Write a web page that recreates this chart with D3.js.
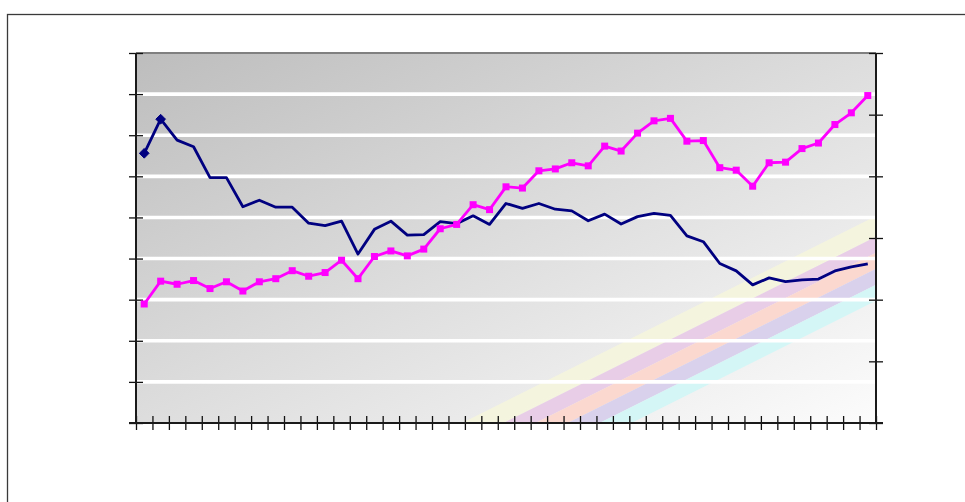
<!DOCTYPE html>
<html>
<head>
<meta charset="utf-8">
<script src="https://cdn.jsdelivr.net/npm/d3@7"></script>
<style>
  html, body { margin: 0; padding: 0; background: #ffffff; }
  svg { display: block; }
</style>
</head>
<body>
<svg id="chart" width="965" height="502"></svg>
<script>
// ---- data ----
const categories = [1,2,3,4,5,6,7,8,9,10,11,12,13,14,15,16,17,18,19,20,21,22,23,24,25,26,27,28,29,30,31,32,33,34,35,36,37,38,39,40,41,42,43,44,45];
const navySeries = [65.6,73.9,68.8,67.2,59.7,59.7,52.6,54.2,52.5,52.5,48.6,48.0,49.1,41.1,47.1,49.1,45.7,45.8,49.0,48.5,50.4,48.3,53.4,52.2,53.4,52.0,51.6,49.2,50.8,48.4,50.2,51.0,50.5,45.5,44.1,38.8,37.0,33.6,35.3,34.4,34.8,35.0,37.0,38.0,38.7];
const magentaSeries = [19.3,23.0,22.5,23.1,21.8,22.9,21.4,22.9,23.4,24.7,23.8,24.4,26.4,23.4,27.0,27.9,27.1,28.2,31.5,32.2,35.4,34.6,38.3,38.1,40.9,41.2,42.2,41.7,44.9,44.1,47.0,49.0,49.4,45.7,45.8,41.4,41.0,38.4,42.2,42.3,44.5,45.4,48.4,50.3,53.1];
const navyMarkerCount = 2; // only the first points carry a diamond marker
const leftTicks = [0,10,20,30,40,50,60,70,80,90];
const rightTicks = [0,10,20,30,40,50,60];

// ---- layout ----
const svg = d3.select("#chart");
const P = { left: 136, right: 876, top: 53, bottom: 423 };
const W = P.right - P.left, H = P.bottom - P.top;

// outer frame (extends past the window)
svg.append("rect")
  .attr("x", 7.5).attr("y", 14.5).attr("width", 1100).attr("height", 600)
  .attr("fill", "#ffffff").attr("stroke", "#3a3a3a").attr("stroke-width", 1.3);

const x = d3.scaleBand().domain(categories).range([P.left, P.right]).paddingInner(0).paddingOuter(0);
const xEdge = d3.scaleLinear().domain([0, categories.length]).range([P.left, P.right]);
const yL = d3.scaleLinear().domain([0, 90]).range([P.bottom, P.top]);
const yR = d3.scaleLinear().domain([0, 60]).range([P.bottom, P.top]);

const defs = svg.append("defs");
const grad = defs.append("linearGradient").attr("id", "bg")
  .attr("x1", 0).attr("y1", 0).attr("x2", 1).attr("y2", 1);
grad.append("stop").attr("offset", "0%").attr("stop-color", "#bdbdbd");
grad.append("stop").attr("offset", "45%").attr("stop-color", "#dadada");
grad.append("stop").attr("offset", "100%").attr("stop-color", "#fcfcfc");

defs.append("clipPath").attr("id", "plotclip")
  .append("rect").attr("x", P.left).attr("y", P.top).attr("width", W).attr("height", H);

// plot background
svg.append("rect").attr("x", P.left).attr("y", P.top).attr("width", W).attr("height", H)
  .attr("fill", "url(#bg)");

// decorative diagonal rainbow stripes
const stripeColors = ["#f6f6dc", "#e8cde7", "#fbd8cf", "#d9d1ec", "#d4f6f6"];
const stripeStart = P.left + W * 0.4535, stripeW = W * 0.0432, slope = 0.5;
const stripes = svg.append("g").attr("clip-path", "url(#clipplot)").attr("clip-path", "url(#plotclip)");
stripeColors.forEach((c, i) => {
  const x0 = stripeStart + i * stripeW - (i === 0 ? stripeW * 0.3 : 0);
  const x1 = stripeStart + (i + 1) * stripeW;
  const L = 800;
  stripes.append("polygon")
    .attr("points", [[x0, P.bottom], [x1, P.bottom], [x1 + L, P.bottom - L * slope], [x0 + L, P.bottom - L * slope]].map(p => p.join(",")).join(" "))
    .attr("fill", c).attr("opacity", i === 0 ? 0.85 : 1);
});

// white gridlines
svg.append("g").selectAll("line")
  .data(leftTicks.filter(t => t > 0 && t < 90))
  .join("line")
  .attr("x1", P.left).attr("x2", P.right)
  .attr("y1", d => yL(d)).attr("y2", d => yL(d))
  .attr("stroke", "#ffffff").attr("stroke-width", 3.6);

// top border
svg.append("line").attr("x1", P.left).attr("x2", P.right).attr("y1", P.top).attr("y2", P.top)
  .attr("stroke", "#808080").attr("stroke-width", 2);

// axes (ticks crossing the axis lines)
const axL = svg.append("g").attr("transform", `translate(${P.left + 7},0)`)
  .call(d3.axisLeft(yL).tickValues(leftTicks).tickSize(14).tickFormat(""));
const axR = svg.append("g").attr("transform", `translate(${P.right - 7},0)`)
  .call(d3.axisRight(yR).tickValues(rightTicks).tickSize(14).tickFormat(""));
const axB = svg.append("g").attr("transform", `translate(0,${P.bottom - 7})`)
  .call(d3.axisBottom(xEdge).tickValues(d3.range(0, categories.length + 1)).tickSize(14).tickFormat(""));
[axL, axR, axB].forEach(a => {
  a.select(".domain").remove();
  a.selectAll(".tick line").attr("stroke", "#111").attr("stroke-width", 1.3);
  a.selectAll("text").remove();
});
svg.append("line").attr("x1", P.left).attr("x2", P.left).attr("y1", P.top).attr("y2", P.bottom)
  .attr("stroke", "#1a1a1a").attr("stroke-width", 2);
svg.append("line").attr("x1", P.right).attr("x2", P.right).attr("y1", P.top).attr("y2", P.bottom)
  .attr("stroke", "#1a1a1a").attr("stroke-width", 2);
svg.append("line").attr("x1", P.left - 7).attr("x2", P.right + 7).attr("y1", P.bottom).attr("y2", P.bottom)
  .attr("stroke", "#1a1a1a").attr("stroke-width", 2);

const cx = (d, i) => x(categories[i]) + x.bandwidth() / 2;

// navy series (left axis)
svg.append("path").datum(navySeries)
  .attr("fill", "none").attr("stroke", "#000080").attr("stroke-width", 2.8)
  .attr("stroke-linejoin", "round")
  .attr("d", d3.line().x(cx).y(d => yL(d)));
svg.append("g").selectAll("path")
  .data(navySeries.slice(0, navyMarkerCount))
  .join("path")
  .attr("transform", (d, i) => `translate(${cx(d, i)},${yL(d)})`)
  .attr("d", d3.symbol(d3.symbolDiamond2 || d3.symbolDiamond, 60))
  .attr("fill", "#000080").attr("stroke", "#000080").attr("stroke-width", 1);

// magenta series (right axis)
svg.append("path").datum(magentaSeries)
  .attr("fill", "none").attr("stroke", "#ff00ff").attr("stroke-width", 2.8)
  .attr("stroke-linejoin", "round")
  .attr("d", d3.line().x(cx).y(d => yR(d)));
svg.append("g").selectAll("rect")
  .data(magentaSeries)
  .join("rect")
  .attr("x", (d, i) => cx(d, i) - 3.5).attr("y", d => yR(d) - 3.5)
  .attr("width", 7).attr("height", 7)
  .attr("fill", "#ff00ff");
</script>
</body>
</html>
